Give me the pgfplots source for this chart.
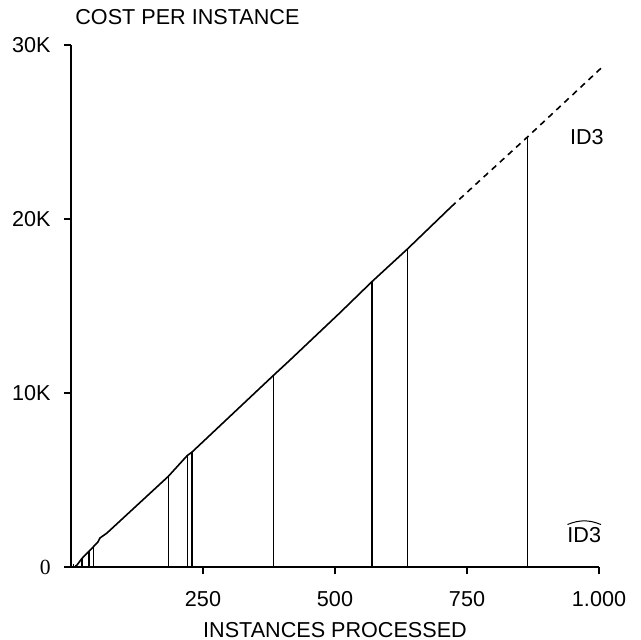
\documentclass[border=0pt]{standalone}
\usepackage{pgfplots}
\pgfplotsset{compat=1.18}
\usepackage{fontspec}
\setmainfont{Liberation Sans}
\newfontfamily\serifzero{Liberation Serif}
\begin{document}
\fontsize{10.8}{12}\selectfont
\begin{tikzpicture}
\begin{axis}[name=ax, scale only axis, width=264pt, height=261pt,
  xmin=0, xmax=1000, ymin=0, ymax=30000,
  axis x line=bottom, axis y line=left,
  axis line style={-, line width=0.8pt, black},
  xtick={250,500,750,1000}, xticklabels={250,500,750,1.000},
  ytick={0,10000,20000,30000}, yticklabels={{\serifzero 0},10K,20K,30K},
  scaled y ticks=false, scaled x ticks=false,
  tick align=outside, major tick length=3.5pt,
  tick style={line width=0.6pt, black},
  ticklabel style={font=\fontsize{10.8}{12}\selectfont},
  xticklabel style={inner sep=0pt, anchor=base, yshift=-16pt},
  yticklabel style={inner sep=0pt, anchor=east, xshift=-6.5pt},
  clip=false]
% ID3 cost per instance (solid part)
\addplot[black, line width=0.8pt] coordinates {
 (8,50) (11,100) (21,500) (42,1150) (51,1440) (55,1670) (68,1950)
 (184,5200) (220,6400) (229,6600) (383,11000) (415,11900)
 (509,14600) (570,16400) (638,18300) (720,20700)};
% extrapolated part
\addplot[black, line width=0.8pt, dash pattern=on 3pt off 2.5pt] coordinates {
 (720,20700) (864,24700) (1005,28700)};
% ID3-hat spikes (rebuild cost)
\addplot[black, line width=0.6pt, ycomb] coordinates {
 (5,150) (21,500) (34,900) (42,1150) (184,5200) (220,6400) (229,6600)
 (383,11000) (570,16400) (638,18300) (864,24700)};
\node[anchor=base west, inner sep=0pt, xshift=2pt, yshift=10pt] at (rel axis cs:0,1) {COST PER INSTANCE};
\node[anchor=base, inner sep=0pt, yshift=-35pt] at (rel axis cs:0.5,0) {INSTANCES PROCESSED};
\node[inner sep=0pt] at (axis cs:977,24700) {ID3};
\node[inner sep=0pt] (h) at (axis cs:972,1840) {ID3};
\draw[line width=0.5pt] ([xshift=0.2pt,yshift=1.2pt]h.north west) to[bend left=22] ([xshift=-0.2pt,yshift=1.2pt]h.north east);
\end{axis}
\path ([shift={(-35.5pt,-36.5pt)}]ax.south west) rectangle ([shift={(20.5pt,22.5pt)}]ax.north east);
\end{tikzpicture}
\end{document}
